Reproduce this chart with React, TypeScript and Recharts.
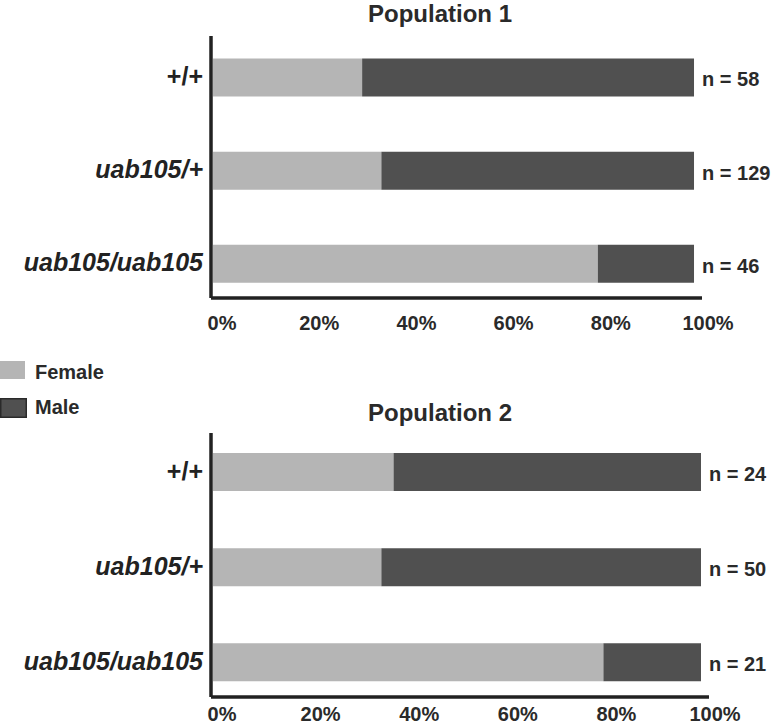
import React from 'react';
import { BarChart, Bar, XAxis, YAxis, LabelList } from 'recharts';

const categories = ['+/+', 'uab105/+', 'uab105/uab105'];
const pop1Female = [31, 35, 80];
const pop1Male = [69, 65, 20];
const pop1N = [58, 129, 46];
const pop2Female = [37, 34.5, 80];
const pop2Male = [63, 65.5, 20];
const pop2N = [24, 50, 21];
const xTicks = [0, 20, 40, 60, 80, 100];
const seriesNames = ['Female', 'Male'];
const titles = ['Population 1', 'Population 2'];

const FONT = '"Liberation Sans", Arial, Helvetica, sans-serif';
const FEMALE = '#b5b5b5';
const MALE = '#505050';
const AXIS = '#222222';

const build = (f: number[], m: number[], n: number[]) =>
  categories.map((cat, i) => ({ cat, female: f[i], male: m[i], n: n[i] }));

const data1 = build(pop1Female, pop1Male, pop1N);
const data2 = build(pop2Female, pop2Male, pop2N);

const CatTick = (props: any) => {
  const { x, y, payload } = props;
  const label: string = String(payload.value);
  const italic = label.includes('uab');
  return (
    <text
      x={x - 8}
      y={y + 8}
      textAnchor="end"
      fontFamily={FONT}
      fontWeight="bold"
      fontStyle={italic ? 'italic' : 'normal'}
      fontSize={25}
      fill="#222"
    >
      {label}
    </text>
  );
};

const makePctTick = (baseline: number) => (props: any) => {
  const { x, y, payload } = props;
  const v = Number(payload.value);
  return (
    <text
      x={x + 9 + v * 0.05}
      y={y + baseline}
      textAnchor="middle"
      fontFamily={FONT}
      fontWeight="bold"
      fontSize={20}
      fill="#2a2a2a"
    >
      {`${v}%`}
    </text>
  );
};

const NLabel = (props: any) => {
  const { x, y, width, height, value } = props;
  return (
    <text
      x={Number(x) + Number(width) + 8}
      y={Number(y) + Number(height) / 2 + 9}
      textAnchor="start"
      fontFamily={FONT}
      fontWeight="bold"
      fontSize={20}
      fill="#2a2a2a"
    >
      {`n = ${value}`}
    </text>
  );
};

type PanelProps = {
  data: any[];
  top: number;
  height: number;
  marginTop: number;
  marginRight: number;
  xAxisHeight: number;
  domain: [number, number];
  padTop: number;
  padBottom: number;
  labelBaseline: number;
};

const Panel = ({ data, top, height, marginTop, marginRight, xAxisHeight, domain, padTop, padBottom, labelBaseline }: PanelProps) => {
  const PctTick = makePctTick(labelBaseline);
  return (
    <div style={{ position: 'absolute', left: 0, top, width: 773, height }}>
      <BarChart
        width={773}
        height={height}
        data={data}
        layout="vertical"
        margin={{ top: marginTop, right: marginRight, bottom: 0, left: 0 }}
      >
        <XAxis
          type="number"
          domain={domain}
          ticks={xTicks}
          allowDataOverflow
          tickLine={false}
          tickSize={0}
          tickMargin={0}
          height={xAxisHeight}
          axisLine={{ stroke: AXIS, strokeWidth: 3.5 }}
          tick={(p: any) => <PctTick {...p} />}
          interval={0}
        />
        <YAxis
          type="category"
          dataKey="cat"
          width={211}
          tickLine={false}
          tickSize={0}
          tickMargin={0}
          padding={{ top: padTop, bottom: padBottom }}
          axisLine={{ stroke: AXIS, strokeWidth: 3.5 }}
          tick={(p: any) => <CatTick {...p} />}
          interval={0}
        />
        <Bar dataKey="female" name={seriesNames[0]} stackId="s" fill={FEMALE} barSize={38} isAnimationActive={false} />
        <Bar dataKey="male" name={seriesNames[1]} stackId="s" fill={MALE} barSize={38} isAnimationActive={false}>
          <LabelList dataKey="n" content={(p: any) => <NLabel {...p} />} />
        </Bar>
      </BarChart>
    </div>
  );
};

export default function App() {
  return (
    <div
      style={{
        position: 'absolute',
        left: 0,
        top: 0,
        width: 773,
        height: 727,
        overflow: 'hidden',
        background: '#ffffff',
        fontFamily: FONT,
      }}
    >
      <Panel
        data={data1}
        top={0}
        height={340}
        marginTop={36}
        marginRight={71}
        xAxisHeight={42}
        domain={[-0.42, 101.66]}
        padTop={-5.6}
        padBottom={-12.1}
        labelBaseline={32}
      />
      <Panel
        data={data2}
        top={400}
        height={327}
        marginTop={33}
        marginRight={64}
        xAxisHeight={30}
        domain={[-0.41, 101.64]}
        padTop={-9.1}
        padBottom={-12.6}
        labelBaseline={24}
      />
      <svg
        width={773}
        height={727}
        style={{ position: 'absolute', left: 0, top: 0, pointerEvents: 'none' }}
      >
        <text x={440} y={22} textAnchor="middle" fontFamily={FONT} fontWeight="bold" fontSize={24} fill="#2a2a2a">
          {titles[0]}
        </text>
        <text x={440} y={421} textAnchor="middle" fontFamily={FONT} fontWeight="bold" fontSize={24} fill="#2a2a2a">
          {titles[1]}
        </text>
        <rect x={0} y={361} width={25} height={18} fill={FEMALE} />
        <text x={35} y={379} fontFamily={FONT} fontWeight="bold" fontSize={20} fill="#2a2a2a">
          {seriesNames[0]}
        </text>
        <rect x={0.75} y={398.75} width={25.5} height={18.5} fill={MALE} stroke="#2a2a2a" strokeWidth={1.5} />
        <text x={35} y={414} fontFamily={FONT} fontWeight="bold" fontSize={20} fill="#2a2a2a">
          {seriesNames[1]}
        </text>
      </svg>
    </div>
  );
}
